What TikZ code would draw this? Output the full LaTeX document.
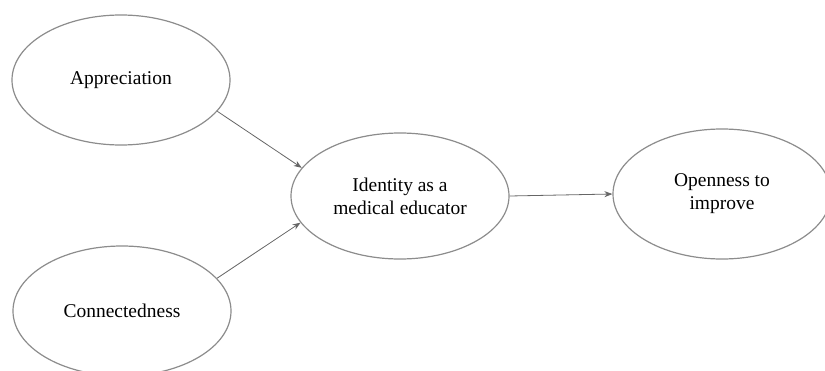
\documentclass[tikz,border=0pt]{standalone}
\usepackage{fontspec}
\setmainfont{Liberation Serif}
\usetikzlibrary{shapes.geometric, arrows.meta}

\tikzset{
	factor/.style={ellipse, draw=gray!90, line width=0.9pt, minimum width=163.5pt, minimum height=97.5pt, inner sep=0pt, align=center, font=\fontsize{14.6}{17.3}\selectfont},
	path/.style={-{Stealth[length=6pt, width=4.5pt]}, draw=black!60, line width=0.6pt}
}

\begin{document}
\begin{tikzpicture}[x=0.75pt, y=-0.75pt]

\useasboundingbox (0, 0) rectangle (825, 371);
\clip (0, 0) rectangle (825, 371);

\node[factor] (appr) at (121, 80) {Appreciation};
\node[factor] (conn) at (122, 311) {Connectedness};
\node[factor, minimum height=94.5pt] (ident) at (400, 196) {Identity as a\\medical educator};
\node[factor] (open) at (722, 194) {Openness to\\improve};

\draw[path] (appr.-18) -- (ident.164);
\draw[path] (conn.19) -- (ident.195);
\draw[path] (ident.east) -- (open.west);

\end{tikzpicture}
\end{document}
